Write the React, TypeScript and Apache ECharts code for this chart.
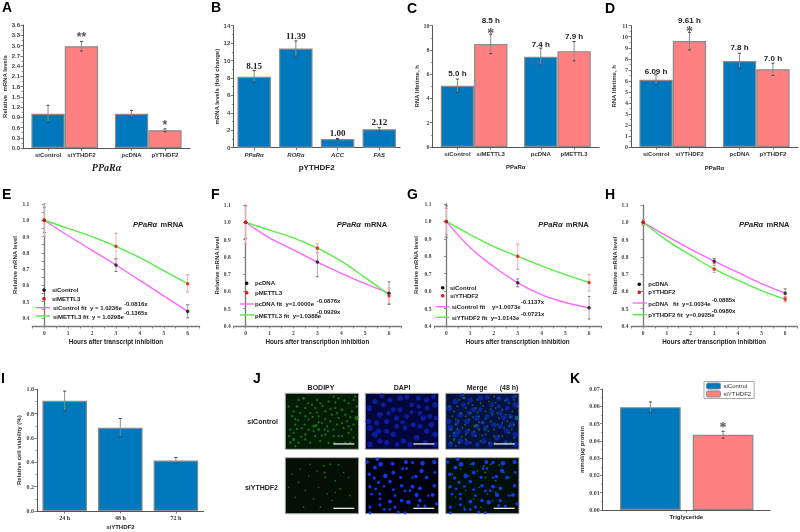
import React, { useEffect, useRef } from "react";
import * as echarts from "echarts";

const BLUE = "#0078BE";
const PINK = "#FF8080";
const SANS = "'Liberation Sans', Arial, sans-serif";
const SERIF = "'Liberation Serif', 'Times New Roman', serif";

// ---------- bar panels ----------
const slotsAC = ["", "siControl", "", "siYTHDF2", "", "", "pcDNA", "", "pYTHDF2", ""];
const slotsC = ["", "siControl", "", "siMETTL3", "", "", "pcDNA", "", "pMETTL3", ""];
const barSlots = [1, 3, 6, 8];

const aValues = [1.0, 2.98, 1.0, 0.52];
const aLow = [0.76, 2.84, 0.9, 0.48];
const aHigh = [1.25, 3.12, 1.1, 0.56];
const aNotes: [number, number, string][] = [[3, 3.24, "**"], [8, 0.68, "*"]];

const bCategories = ["PPaRα", "RORα", "ACC", "FAS"];
const bValues = [8.15, 11.39, 1.0, 2.12];
const bLow = [7.5, 10.5, 0.95, 1.95];
const bHigh = [8.85, 12.25, 1.05, 2.3];
const bNotes: [number, number, string][] = [[0, 9.37, "8.15"], [1, 12.8, "11.39"], [2, 1.72, "1.00"], [3, 2.98, "2.12"]];

const cValues = [5.05, 8.5, 7.45, 7.9];
const cLow = [4.5, 7.7, 6.75, 7.1];
const cHigh = [5.6, 9.3, 8.15, 8.7];
const cNotes: [number, number, string][] = [[1, 6.02, "5.0 h"], [3, 10.41, "8.5 h"], [6, 8.49, "7.4 h"], [8, 9.15, "7.9 h"]];
const cStars: [number, number, string][] = [[3, 9.35, "*"]];

const dValues = [6.09, 9.61, 7.8, 7.05];
const dLow = [5.65, 8.8, 7.15, 6.5];
const dHigh = [6.55, 10.4, 8.5, 7.6];
const dNotes: [number, number, string][] = [[1, 6.86, "6.09 h"], [3, 11.45, "9.61 h"], [6, 9.0, "7.8 h"], [8, 8.04, "7.0 h"]];
const dStars: [number, number, string][] = [[3, 10.43, "*"]];

const iCategories = ["24 h", "48 h", "72 h"];
const iValues = [0.905, 0.685, 0.415];
const iLow = [0.825, 0.61, 0.39];
const iHigh = [0.985, 0.76, 0.44];

const kNames = ["siControl", "siYTHDF2"];
const kX = [0.655, 1.655];
const kValues = [0.0595, 0.0435];
const kLow = [0.0565, 0.0415];
const kHigh = [0.0625, 0.0455];
const kStars: [number, number, string][] = [[1.655, 0.0475, "*"]];

// ---------- decay panels ----------
const hours = [0, 1, 2, 3, 4, 5, 6];
const pointHours = [0, 3, 6];

const eBlack = [1.0, 0.725, 0.44];
const eBlackLow = [0.925, 0.685, 0.4];
const eBlackHigh = [1.08, 0.765, 0.48];
const eRed = [1.0, 0.84, 0.61];
const eRedLow = [0.9, 0.76, 0.56];
const eRedHigh = [1.1, 0.92, 0.665];
const ePinkFit = [1.0, 0.905, 0.815, 0.725, 0.63, 0.535, 0.44];
const eGreenFit = [1.0, 0.95, 0.9, 0.84, 0.77, 0.69, 0.61];

const fBlack = [1.0, 0.77, 0.59];
const fBlackLow = [0.905, 0.685, 0.525];
const fBlackHigh = [1.095, 0.855, 0.655];
const fRed = [1.0, 0.85, 0.575];
const fRedLow = [0.875, 0.825, 0.53];
const fRedHigh = [1.095, 0.875, 0.62];
const fPinkFit = [1.0, 0.91, 0.84, 0.77, 0.705, 0.645, 0.59];
const fGreenFit = [1.0, 0.955, 0.91, 0.85, 0.775, 0.68, 0.58];

const gBlack = [1.0, 0.648, 0.505];
const gBlackLow = [0.91, 0.625, 0.44];
const gBlackHigh = [1.09, 0.67, 0.57];
const gRed = [1.0, 0.8, 0.65];
const gRedLow = [0.925, 0.725, 0.6];
const gRedHigh = [1.075, 0.87, 0.695];
const gPinkFit = [1.0, 0.85, 0.74, 0.648, 0.58, 0.535, 0.505];
const gGreenFit = [1.0, 0.925, 0.855, 0.8, 0.745, 0.695, 0.65];

const hBlack = [1.0, 0.775, 0.59];
const hBlackLow = [0.985, 0.76, 0.565];
const hBlackHigh = [1.015, 0.79, 0.615];
const hRed = [1.0, 0.73, 0.555];
const hRedLow = [0.985, 0.71, 0.54];
const hRedHigh = [1.015, 0.75, 0.57];
const hPinkFit = [1.0, 0.92, 0.845, 0.775, 0.71, 0.645, 0.59];
const hGreenFit = [1.0, 0.895, 0.81, 0.73, 0.665, 0.605, 0.555];

// ---------- micrographs: [x, y, size] ----------
const nucleiTop = [
  [12, 45, 13], [29, 125, 14], [39, 115, 12], [84, 50, 10], [139, 57, 9], [164, 60, 10], [199, 95, 14], [209, 35, 13],
  [54, 35, 11], [74, 20, 11], [104, 15, 12], [139, 35, 10], [184, 20, 12], [29, 25, 12], [44, 65, 13], [64, 85, 12],
  [94, 75, 12], [119, 105, 11], [144, 95, 12], [174, 75, 12], [194, 70, 11], [9, 85, 12], [14, 105, 13], [44, 145, 12],
  [84, 125, 12], [114, 145, 12], [154, 135, 13], [184, 115, 12], [209, 125, 13], [64, 150, 12], [94, 100, 11], [164, 100, 11],
  [34, 90, 11], [124, 70, 10], [159, 15, 11], [209, 155, 12], [14, 155, 12], [134, 155, 11], [64, 115, 10], [104, 50, 10],
  [50, 8, 10], [125, 12, 10], [205, 10, 10], [160, 40, 9], [70, 60, 10], [112, 88, 9], [185, 45, 10], [180, 150, 11], [95, 155, 10], [212, 75, 10],
];
const nucleiBottom = [
  [6, 13, 8], [36, 5, 8], [46, 20, 11], [29, 30, 9], [82, 18, 9], [122, 13, 9], [142, 15, 7], [172, 17, 11], [207, 13, 10],
  [12, 50, 8], [27, 62, 7], [60, 55, 11], [84, 45, 9], [112, 33, 6], [124, 33, 6], [169, 40, 10], [152, 57, 8], [142, 60, 5],
  [184, 60, 8], [209, 45, 6], [14, 88, 7], [40, 75, 7], [74, 72, 8], [106, 60, 7], [109, 85, 8], [142, 88, 9], [164, 93, 9],
  [207, 85, 8], [31, 95, 6], [56, 87, 6], [84, 97, 6], [119, 101, 6], [134, 100, 6], [154, 113, 10], [202, 113, 9], [19, 110, 6],
  [44, 110, 6], [89, 115, 6], [109, 130, 8], [129, 135, 11], [74, 133, 9], [44, 125, 6], [164, 130, 8], [214, 140, 7], [14, 150, 7],
  [44, 143, 7], [89, 150, 7], [74, 157, 6], [179, 147, 7], [159, 145, 6], [99, 165, 6], [57, 157, 6], [119, 167, 6], [14, 167, 6],
  [189, 115, 5],
];
const greenTop = [
  [55, 15, 6], [35, 40, 5], [20, 70, 4], [45, 60, 4], [60, 45, 4], [80, 35, 4], [95, 20, 4], [130, 25, 4], [160, 15, 4], [190, 30, 4],
  [210, 10, 4], [215, 40, 4], [200, 55, 4], [170, 50, 5], [150, 45, 4], [120, 55, 4], [100, 70, 4], [70, 80, 4], [30, 95, 4], [15, 110, 4],
  [50, 105, 4], [85, 100, 5], [92, 98, 7], [110, 90, 4], [135, 85, 4], [160, 75, 4], [185, 85, 4], [214, 75, 10], [205, 95, 4], [175, 105, 4],
  [145, 110, 4], [120, 125, 4], [90, 130, 4], [60, 125, 4], [25, 140, 7], [15, 150, 5], [40, 150, 4], [75, 150, 4], [105, 145, 4], [130, 150, 4],
  [160, 130, 4], [190, 120, 4], [205, 135, 4], [180, 150, 4], [140, 65, 4], [75, 60, 4], [10, 40, 4], [25, 120, 4], [100, 110, 6], [125, 100, 4],
  [68, 30, 4], [112, 38, 4], [178, 22, 4], [150, 28, 4], [30, 78, 4], [58, 95, 4], [82, 72, 4], [128, 115, 4], [170, 90, 4], [198, 110, 4],
  [48, 132, 4], [70, 110, 4], [110, 128, 4], [148, 150, 4], [195, 72, 4], [12, 130, 4], [120, 78, 4], [155, 60, 4], [90, 45, 4], [40, 20, 4],
  [25, 55, 4], [38, 82, 4], [60, 70, 4], [95, 58, 4], [135, 48, 4], [180, 65, 4], [205, 20, 4], [145, 130, 4], [35, 108, 4], [170, 130, 4],
  [100, 88, 4], [118, 110, 4], [85, 115, 4], [155, 95, 4], [190, 100, 4], [60, 140, 4], [30, 160, 4], [195, 150, 4], [105, 30, 4], [145, 10, 4],
];
const greenBottom = [
  [115, 25, 3], [118, 45, 4], [120, 60, 3], [135, 20, 3], [160, 22, 3], [20, 50, 2], [45, 35, 2], [70, 55, 2], [95, 40, 2], [150, 70, 3],
  [165, 95, 3], [100, 90, 2], [60, 100, 2], [30, 120, 2], [85, 125, 2], [125, 110, 2], [190, 60, 2], [175, 45, 2], [10, 90, 2], [140, 130, 2],
  [55, 150, 2], [105, 150, 2], [195, 115, 2], [40, 75, 2], [75, 20, 2], [150, 105, 2],
];

// ---------- legend texts ----------
const fitRows = [
  { a: "siControl fit  y = 1.0236e", aSup: "-0.0816x", b: "siMETTL3 fit  y = 1.0298e", bSup: "-0.1365x", p1: "siControl", p2: "siMETTL3" },
  { a: "pcDNA fit  y=1.0000e", aSup: "-0.0876x", b: "pMETTL3 fit  y=1.0388e", bSup: "-0.0929x", p1: "pcDNA", p2: "pMETTL3" },
  { a: "siControl fit    y=1.0073e", aSup: "-0.1137x", b: "siYTHDF2 fit  y=1.0143e", bSup: "-0.0721x", p1: "siControl", p2: "siYTHDF2" },
  { a: "pcDNA   fit  y=1.0034e", aSup: "-0.0885x", b: "pYTHDF2 fit  y=0.9935e", bSup: "-0.0980x", p1: "pcDNA", p2: "pYTHDF2" },
];

function buildOption() {
  const grid: any[] = [], xAxis: any[] = [], yAxis: any[] = [], series: any[] = [];

  const errorBars = (i: number, xs: number[], lo: number[], hi: number[], color: string, capColor: string, z = 4) => ({
    type: "custom", xAxisIndex: i, yAxisIndex: i, z, silent: true,
    data: xs.map((x, k) => [x, lo[k], hi[k]]),
    renderItem: (_: any, api: any) => {
      const a = api.coord([api.value(0), api.value(1)]);
      const b = api.coord([api.value(0), api.value(2)]);
      const line = (x1: number, y1: number, x2: number, y2: number, c: string) => ({
        type: "line", shape: { x1, y1, x2, y2 }, style: { stroke: c, lineWidth: 1 },
      });
      return {
        type: "group",
        children: [
          line(a[0], a[1], b[0], b[1], color),
          line(a[0] - 1.5, a[1], a[0] + 1.5, a[1], capColor),
          line(b[0] - 1.5, b[1], b[0] + 1.5, b[1], capColor),
        ],
      };
    },
  });

  const notes = (i: number, list: [number, number, string][], font: any) => ({
    type: "custom", xAxisIndex: i, yAxisIndex: i, z: 6, silent: true, clip: false,
    data: list.map((n) => [n[0], n[1]]),
    renderItem: (p: any, api: any) => {
      const c = api.coord([api.value(0), api.value(1)]);
      return {
        type: "text",
        style: { x: c[0], y: c[1], text: list[p.dataIndex][2], align: "center", verticalAlign: "middle", textAlign: "center", textVerticalAlign: "middle", fill: "#222", ...font },
      };
    },
  });

  const axisLine = { show: true, lineStyle: { color: "#555", width: 1 } };
  const axisTick = { show: true, length: 2.5, lineStyle: { color: "#555", width: 0.8 } };
  const yLabel = (font: string, size: number, digits: number) => ({
    fontFamily: font, fontSize: size, fontWeight: "bold", color: "#444", margin: 3,
    formatter: (v: number) => v.toFixed(digits),
  });
  const yName = (name: string, gap: number, size = 6) => ({
    name, nameLocation: "middle", nameRotate: 90, nameGap: gap,
    nameTextStyle: { fontFamily: SANS, fontSize: size, fontWeight: "bold", color: "#333" },
  });

  const barPanel = (cfg: any) => {
    const i = grid.length;
    grid.push({ left: cfg.left, top: cfg.top, width: cfg.width, height: cfg.height });
    const isSlots = cfg.categories.length === 10;
    xAxis.push({
      gridIndex: i, type: "category", data: cfg.categories, ...cfg.xName,
      axisLine, axisTick: { ...axisTick, alignWithLabel: true, interval: (_: number, v: string) => v !== "" },
      axisLabel: { interval: 0, fontFamily: cfg.xFont || SANS, fontSize: cfg.xSize || 6, fontWeight: "bold", fontStyle: cfg.xStyle || "normal", color: "#333", margin: 4 },
    });
    yAxis.push({
      gridIndex: i, type: "value", min: 0, max: cfg.max, interval: cfg.interval, splitLine: { show: false },
      axisLine, axisTick, minorTick: { show: true, splitNumber: 2, length: 1.5, lineStyle: { color: "#555", width: 0.6 } },
      axisLabel: yLabel(cfg.yFont || SANS, cfg.ySize || 6, cfg.digits), ...yName(cfg.yTitle, cfg.yGap),
    });
    const xs: number[] = isSlots ? barSlots : cfg.categories.map((_: any, k: number) => k);
    const values = cfg.categories.map((_: any, k: number) => {
      const idx = xs.indexOf(k);
      if (idx < 0) return null;
      const pink = cfg.pairs && idx % 2 === 1;
      return { value: cfg.values[idx], itemStyle: { color: pink ? PINK : BLUE } };
    });
    series.push({
      type: "bar", xAxisIndex: i, yAxisIndex: i, barWidth: cfg.barWidth, data: values, z: 2,
      itemStyle: { borderColor: "#8a8a8a", borderWidth: 1.2 },
    });
    series.push(errorBars(i, xs, cfg.low, cfg.high, "#8a8a8a", "#444"));
    (cfg.notes || []).forEach((n: any) => series.push(notes(i, n.list, n.font)));
  };

  const nameX = (name: string, gap: number, font: any) => ({
    name, nameLocation: "middle", nameGap: gap, nameTextStyle: { color: "#222", ...font },
  });

  barPanel({
    left: 23, top: 25, width: 167, height: 123, categories: slotsAC, values: aValues, low: aLow, high: aHigh, pairs: true, barWidth: 33.3,
    max: 3.6, interval: 0.3, digits: 1, yTitle: "Relative  mRNA levels", yGap: 15,
    xName: nameX("PPaRα", 14, { fontFamily: SERIF, fontSize: 10, fontWeight: "bold", fontStyle: "italic" }),
    notes: [{ list: aNotes, font: { fontFamily: SANS, fontSize: 12, fontWeight: "bold", fill: "#555" } }],
  });
  barPanel({
    left: 233.3, top: 25.7, width: 166.8, height: 122, categories: bCategories, values: bValues, low: bLow, high: bHigh, barWidth: 33.5,
    max: 14, interval: 2, digits: 0, yTitle: "mRNA levels (fold change)", yGap: 11, xStyle: "italic",
    xName: nameX("pYTHDF2", 16, { fontFamily: SANS, fontSize: 8, fontWeight: "bold" }),
    notes: [{ list: bNotes, font: { fontFamily: SERIF, fontSize: 9, fontWeight: "bold" } }],
  });
  barPanel({
    left: 432.4, top: 25.7, width: 166.7, height: 121.3, categories: slotsC, values: cValues, low: cLow, high: cHigh, pairs: true, barWidth: 33.3,
    max: 10, interval: 2, digits: 0, yTitle: "RNA lifetime, h", yGap: 12, yFont: SERIF,
    xName: nameX("PPaRα", 17, { fontFamily: SANS, fontSize: 6, fontWeight: "bold" }),
    notes: [
      { list: cNotes, font: { fontFamily: SANS, fontSize: 8, fontWeight: "bold" } },
      { list: cStars, font: { fontFamily: SERIF, fontSize: 14, fontWeight: "bold", fill: "#555" } },
    ],
  });
  barPanel({
    left: 631, top: 25.7, width: 167, height: 121.3, categories: slotsAC, values: dValues, low: dLow, high: dHigh, pairs: true, barWidth: 33.3,
    max: 11, interval: 1, digits: 0, yTitle: "RNA lifetime, h", yGap: 14, yFont: SERIF,
    xName: nameX("PPaRα", 18, { fontFamily: SANS, fontSize: 6, fontWeight: "bold" }),
    notes: [
      { list: dNotes, font: { fontFamily: SANS, fontSize: 8, fontWeight: "bold" } },
      { list: dStars, font: { fontFamily: SERIF, fontSize: 14, fontWeight: "bold", fill: "#555" } },
    ],
  });

  const decayPanel = (cfg: any) => {
    const i = grid.length;
    grid.push({ left: cfg.left, top: cfg.top, width: cfg.width, height: cfg.height });
    const line = { show: true, lineStyle: { color: "#777", width: 1.3 } };
    xAxis.push({
      gridIndex: i, type: "value", min: -0.5, max: 6.5, interval: 0.5, splitLine: { show: false },
      axisLine: line, axisTick: { show: true, length: 2.5, lineStyle: { color: "#777", width: 0.8 } },
      axisLabel: {
        fontFamily: SERIF, fontSize: 5.5, fontWeight: "bold", color: "#444", margin: 4, hideOverlap: false,
        formatter: (v: number) => (Number.isInteger(v) ? String(v) : ""),
      },
      ...nameX(cfg.xTitle, 12, { fontFamily: SANS, fontSize: 6.3, fontWeight: "bold" }),
    });
    yAxis.push({
      gridIndex: i, type: "value", min: cfg.min, max: 1.1, interval: cfg.interval, splitLine: { show: false },
      axisLine: line, axisTick: { show: true, length: 2.5, lineStyle: { color: "#777", width: 0.8 } },
      axisLabel: {
        fontFamily: SERIF, fontSize: 5.5, fontWeight: "bold", color: "#444", margin: 3,
        formatter: (v: number) => (Math.round(v * 100) % 10 === 0 ? v.toFixed(1) : ""),
      },
      ...yName(cfg.yTitle, cfg.yGap),
    });
    const fit = (data: number[], color: string) => ({
      type: "line", xAxisIndex: i, yAxisIndex: i, smooth: 0.4, showSymbol: false, z: 3, silent: true,
      data: hours.map((h, k) => [h, data[k]]), lineStyle: { color, width: 1.4 },
    });
    series.push(errorBars(i, pointHours, cfg.black[1], cfg.black[2], "#a9a9a9", "#777", 2));
    series.push(errorBars(i, pointHours, cfg.red[1], cfg.red[2], "#f6b5b5", "#f08c8c", 2));
    series.push(fit(cfg.pink, "#FF66FF"));
    series.push(fit(cfg.green, "#55EE44"));
    const points = (data: number[], color: string) => ({
      type: "scatter", xAxisIndex: i, yAxisIndex: i, symbol: "circle", symbolSize: 3.5, z: 5, silent: true,
      data: pointHours.map((h, k) => [h, data[k]]), itemStyle: { color },
    });
    series.push(points(cfg.black[0], "#111"));
    series.push(points(cfg.red[0], "#EE1111"));
  };

  decayPanel({
    left: 32.3, top: 204, width: 167.3, height: 122, min: 0.35, interval: 0.05, yTitle: "Relative mRNA level", yGap: 14,
    xTitle: "Hours after transcript inhibition", black: [eBlack, eBlackLow, eBlackHigh], red: [eRed, eRedLow, eRedHigh], pink: ePinkFit, green: eGreenFit,
  });
  decayPanel({
    left: 233.7, top: 205, width: 167.3, height: 121, min: 0.4, interval: 0.1, yTitle: "Relative mRNA level", yGap: 13,
    xTitle: "Hours after transcription inhibition", black: [fBlack, fBlackLow, fBlackHigh], red: [fRed, fRedLow, fRedHigh], pink: fPinkFit, green: fGreenFit,
  });
  decayPanel({
    left: 434.4, top: 204, width: 166.6, height: 122, min: 0.4, interval: 0.1, yTitle: "Relative mRNA level", yGap: 15,
    xTitle: "Hours after transcription inhibition", black: [gBlack, gBlackLow, gBlackHigh], red: [gRed, gRedLow, gRedHigh], pink: gPinkFit, green: gGreenFit,
  });
  decayPanel({
    left: 631.4, top: 205, width: 166.6, height: 121, min: 0.4, interval: 0.1, yTitle: "Relative mRNA level", yGap: 13,
    xTitle: "Hours after transcription inhibition", black: [hBlack, hBlackLow, hBlackHigh], red: [hRed, hRedLow, hRedHigh], pink: hPinkFit, green: hGreenFit,
  });

  barPanel({
    left: 36.9, top: 389.3, width: 166.8, height: 121.7, categories: iCategories, values: iValues, low: iLow, high: iHigh, barWidth: 44.6,
    max: 1.0, interval: 0.2, digits: 1, yTitle: "Relative cell viability (%)", yGap: 15, yFont: SERIF, xFont: SERIF,
    xName: nameX("siYTHDF2", 13, { fontFamily: SANS, fontSize: 6, fontWeight: "bold" }),
  });

  // K
  {
    const i = grid.length;
    grid.push({ left: 602.7, top: 389, width: 167.3, height: 121 });
    xAxis.push({
      gridIndex: i, type: "value", min: 0, max: 2.3, splitLine: { show: false }, axisLine,
      axisTick: { ...axisTick, customValues: [1.155] }, axisLabel: { show: false },
      ...nameX("Triglyceride", 4, { fontFamily: SANS, fontSize: 6, fontWeight: "bold" }),
    });
    yAxis.push({
      gridIndex: i, type: "value", min: 0, max: 0.07, interval: 0.01, splitLine: { show: false }, axisLine, axisTick,
      minorTick: { show: true, splitNumber: 2, length: 1.5, lineStyle: { color: "#555", width: 0.6 } },
      axisLabel: yLabel(SERIF, 6, 2), ...yName("mmol/μg protein", 17),
    });
    kNames.forEach((name, k) => {
      series.push({
        type: "bar", name, xAxisIndex: i, yAxisIndex: i, barWidth: 60.7, barGap: "-100%", z: 2,
        data: [[kX[k], kValues[k]]],
        itemStyle: { color: k ? PINK : BLUE, borderColor: "#8a8a8a", borderWidth: 1.2 },
      });
    });
    series.push(errorBars(i, kX, kLow, kHigh, "#8a8a8a", "#444"));
    series.push(notes(i, kStars, { fontFamily: SERIF, fontSize: 14, fontWeight: "bold", fill: "#555" }));
  }

  // J micrographs
  const micro = (left: number, top: number, bg: string, layers: { data: number[][]; color: string; extra: number; opacity?: number }[]) => {
    const i = grid.length;
    grid.push({ show: true, left, top, width: 73.3, height: 56, backgroundColor: bg, borderColor: "#aaa", borderWidth: 1 });
    xAxis.push({ gridIndex: i, type: "value", min: 0, max: 220, show: false });
    yAxis.push({ gridIndex: i, type: "value", min: 0, max: 170, inverse: true, show: false });
    layers.forEach((l) =>
      series.push({
        type: "scatter", xAxisIndex: i, yAxisIndex: i, silent: true, z: 2, symbol: "circle",
        data: l.data, symbolSize: (d: number[]) => d[2] / 3 + l.extra, itemStyle: { color: l.color, opacity: l.opacity ?? 1 },
      })
    );
  };
  const colX = [285.3, 365.3, 445.7];
  const rowY = [393.3, 457.7];
  micro(colX[0], rowY[0], "#041c06", [{ data: greenTop, color: "#249024", extra: 1.0, opacity: 0.7 }]);
  micro(colX[1], rowY[0], "#03063a", [{ data: nucleiTop, color: "#0a1c9c", extra: 1.5 }]);
  micro(colX[2], rowY[0], "#051240", [{ data: nucleiTop, color: "#0b249c", extra: 1.5 }, { data: greenTop, color: "#249024", extra: 0.6, opacity: 0.6 }]);
  micro(colX[0], rowY[1], "#031003", [{ data: greenBottom, color: "#1c6e1c", extra: 0.8 }]);
  micro(colX[1], rowY[1], "#00000c", [{ data: nucleiBottom, color: "#0a3cf5", extra: 0.8 }]);
  micro(colX[2], rowY[1], "#000f0a", [{ data: nucleiBottom, color: "#0a3cf5", extra: 0.8 }, { data: greenBottom, color: "#1c6e1c", extra: 0.8 }]);

  // overlay texts
  const text = (x: number, y: number, t: string, o: any = {}) => ({
    type: "text", x, y, z: 20, silent: true,
    style: { text: t, fontFamily: SANS, fontSize: 6, fontWeight: "bold", fill: "#222", align: "left", verticalAlign: "middle", textAlign: "left", textVerticalAlign: "middle", ...o },
  });
  const graphic: any[] = [];
  const letters: [string, number, number][] = [
    ["A", 2, 7], ["B", 211, 7], ["C", 407, 8], ["D", 605, 8],
    ["E", 2, 194], ["F", 211, 194], ["G", 407, 194], ["H", 605, 194],
    ["I", 1, 378], ["J", 253, 378], ["K", 570, 378],
  ];
  letters.forEach(([t, x, y]) => graphic.push(text(x, y, t, { fontSize: 14, fill: "#000" })));

  // decay legends
  const dot = (x: number, y: number, color: string) => ({ type: "circle", z: 20, silent: true, shape: { cx: x, cy: y, r: 1.8 }, style: { fill: color } });
  const seg = (x1: number, x2: number, y: number, color: string) => ({ type: "line", z: 20, silent: true, shape: { x1, y1: y, x2, y2: y }, style: { stroke: color, lineWidth: 1.4 } });
  const layouts = [
    { mx: 44, my: [290, 298.7], tx: 52, lx: [36, 50], ly: [307.7, 316], fx: 53, fy: [307.7, 317], sx: 124, sy: [304.3, 313], title: 133 },
    { mx: 246.7, my: [283.3, 292.7], tx: 255, lx: [240, 254], ly: [304, 315], fx: 255, fy: [304, 316], sx: 316.7, sy: [300.7, 312.3], title: 336.7 },
    { mx: 442.7, my: [287.7, 295.7], tx: 450, lx: [435.7, 449.3], ly: [306.7, 317.3], fx: 451.7, fy: [306.7, 318], sx: 520.7, sy: [302.3, 314.3], title: 538.3 },
    { mx: 639.3, my: [284.3, 292.3], tx: 648.3, lx: [632.7, 646.7], ly: [303, 314.7], fx: 648.3, fy: [304, 315], sx: 711.7, sy: [300, 311], title: 739 },
  ];
  layouts.forEach((l, k) => {
    const r = fitRows[k];
    graphic.push(dot(l.mx, l.my[0], "#111"), text(l.tx, l.my[0], r.p1));
    graphic.push(dot(l.mx, l.my[1], "#EE1111"), text(l.tx, l.my[1], r.p2));
    graphic.push(seg(l.lx[0], l.lx[1], l.ly[0], "#FF66FF"), text(l.fx, l.fy[0], r.a), text(l.sx, l.sy[0], r.aSup));
    graphic.push(seg(l.lx[0], l.lx[1], l.ly[1], "#55EE44"), text(l.fx, l.fy[1], r.b), text(l.sx, l.sy[1], r.bSup));
    graphic.push({
      type: "text", x: l.title, y: 224, z: 20, silent: true,
      style: {
        text: "{i|PPaRα} {n|mRNA}", verticalAlign: "middle", textVerticalAlign: "middle",
        rich: {
          i: { fontFamily: SANS, fontSize: 7.5, fontWeight: "bold", fontStyle: "italic", fill: "#222" },
          n: { fontFamily: SANS, fontSize: 7.5, fontWeight: "bold", fill: "#222" },
        },
      },
    });
  });

  // J labels
  const jLabel = { fontSize: 7, align: "center", textAlign: "center" };
  graphic.push(text(321, 387, "BODIPY", jLabel));
  graphic.push(text(402, 387, "DAPI", jLabel));
  graphic.push(text(477, 387, "Merge", jLabel));
  graphic.push(text(509, 387, "(48 h)", jLabel));
  graphic.push(text(278, 421, "siControl", { fontSize: 7, align: "right", textAlign: "right" }));
  graphic.push(text(278, 487.7, "siYTHDF2", { fontSize: 7, align: "right", textAlign: "right" }));
  colX.forEach((x) =>
    rowY.forEach((y) =>
      graphic.push({ type: "rect", z: 20, silent: true, shape: { x: x + 48, y: y + 50, width: 21, height: 1.3 }, style: { fill: "#e8e8e8" } })
    )
  );

  return {
    animation: false,
    backgroundColor: "#fff",
    grid, xAxis, yAxis, series, graphic,
    legend: {
      data: kNames, left: 704, top: 381.5, orient: "vertical", padding: [1, 3, 1, 2], itemGap: 1, itemWidth: 14, itemHeight: 6,
      backgroundColor: "#fff", borderColor: "#aaa", borderWidth: 1, selectedMode: false,
      textStyle: { fontFamily: SANS, fontSize: 6, color: "#333", padding: [0, 0, 0, -2] },
      itemStyle: { borderColor: "#8a8a8a", borderWidth: 1 },
    },
  };
}

export default function App() {
  const ref = useRef<HTMLDivElement>(null);
  useEffect(() => {
    const chart = echarts.init(ref.current!, undefined, { renderer: "svg" });
    chart.setOption(buildOption() as any);
    return () => chart.dispose();
  }, []);
  return <div ref={ref} style={{ position: "fixed", left: 0, top: 0, width: 800, height: 532, filter: "blur(0.4px)" }} />;
}
